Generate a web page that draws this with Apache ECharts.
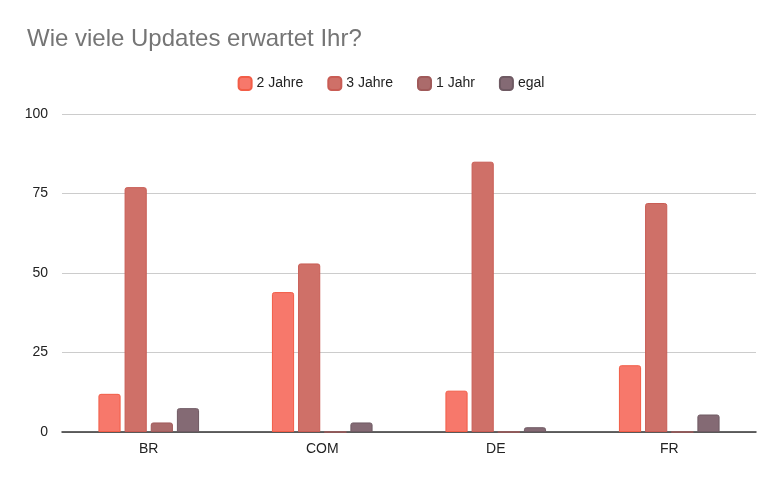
<!DOCTYPE html>
<html><head><meta charset="utf-8">
<script src="https://cdn.jsdelivr.net/npm/echarts@6/dist/echarts.min.js"></script>
<style>html,body{margin:0;padding:0;background:#fff}#c{width:782px;height:483px}</style>
</head><body><div id="c"></div>
<script>
const categories = ['BR','COM','DE','FR'];
const seriesNames = ['2 Jahre','3 Jahre','1 Jahr','egal'];
const zweiJahre = [12,44,13,21];
const dreiJahre = [77,53,85,72];
const einJahr = [3,0,0,0];
const egal = [7.5,3,1.5,5.5];
const yTicks = [0,25,50,75,100];
const fills = ['#f7786b','#cf7068','#ab6b6b','#846a74'];
const borders = ['#f25d47','#c95c54','#a05a5a','#6f5a63'];
const data = [zweiJahre,dreiJahre,einJahr,egal];
const chart = echarts.init(document.getElementById('c'));
chart.setOption({
  animation:false,
  title:{text:'Wie viele Updates erwartet Ihr?',left:22,top:22,textStyle:{fontFamily:'Liberation Sans, Arial',fontSize:24,fontWeight:'normal',color:'#757575'}},
  legend:{top:71,left:'center',itemWidth:13,itemHeight:13,itemGap:24,textStyle:{fontFamily:'Liberation Sans, Arial',fontSize:14,color:'#222'},data:seriesNames},
  grid:{left:62,right:26,top:114,bottom:51},
  xAxis:{type:'category',data:categories,axisTick:{show:false},axisLine:{lineStyle:{color:'#333',width:1.5}},axisLabel:{fontFamily:'Liberation Sans, Arial',fontSize:14,color:'#222',margin:10}},
  yAxis:{type:'value',min:0,max:100,interval:25,axisLabel:{fontFamily:'Liberation Sans, Arial',fontSize:14,color:'#222',margin:14,formatter:v=>yTicks.includes(v)?String(v):''},splitLine:{lineStyle:{color:'#ccc'}}},
  series:seriesNames.map((n,i)=>({name:n,type:'bar',data:data[i],barGap:'18%',barCategoryGap:'42%',
    itemStyle:{color:fills[i],borderColor:borders[i],borderWidth:1,borderRadius:[2,2,0,0]}}))
});
</script></body></html>
